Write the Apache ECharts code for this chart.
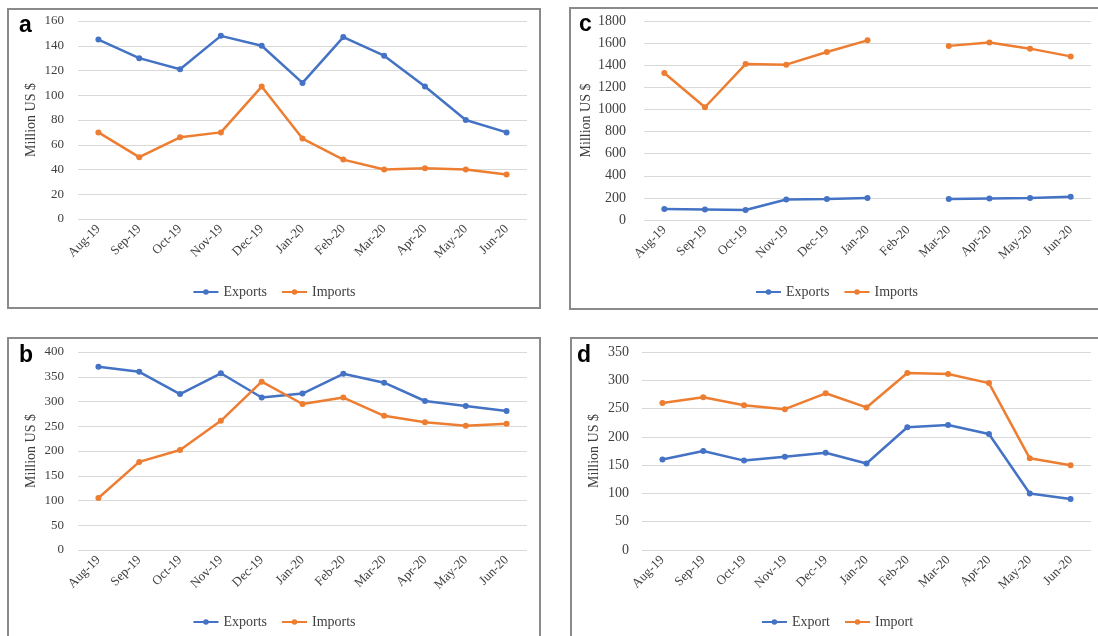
<!DOCTYPE html>
<html>
<head>
<meta charset="utf-8">
<title>Monthly trade</title>
<script src="https://cdn.jsdelivr.net/npm/echarts@6/dist/echarts.min.js"></script>
<style>
  html, body { margin: 0; padding: 0; background: #fff; }
  body { width: 1098px; height: 636px; position: relative; overflow: hidden; }
  .panel { position: absolute; box-sizing: border-box; border: 2px solid #8a8a8a; background: #fff; }
</style>
</head>
<body>
<div id="panel-a" class="panel" style="left:7px;top:8px;width:534px;height:301px"></div>
<div id="panel-c" class="panel" style="left:569px;top:7px;width:535px;height:303px"></div>
<div id="panel-b" class="panel" style="left:7px;top:337px;width:534px;height:310px"></div>
<div id="panel-d" class="panel" style="left:570px;top:337px;width:534px;height:310px"></div>
<script>
// categories
const months = ['Aug-19', 'Sep-19', 'Oct-19', 'Nov-19', 'Dec-19', 'Jan-20', 'Feb-20', 'Mar-20', 'Apr-20', 'May-20', 'Jun-20'];

// panel a
const aExports = [145, 130, 121, 148, 140, 110, 147, 132, 107, 80, 70];
const aImports = [70, 50, 66, 70, 107, 65, 48, 40, 41, 40, 36];

// panel b
const bExports = [370, 360, 315, 357, 308, 316, 356, 338, 301, 291, 281];
const bImports = [105, 178, 202, 261, 340, 295, 308, 271, 258, 251, 255];

// panel c (no value for Feb-20)
const cExports = [100, 95, 90, 185, 190, 200, null, 190, 195, 200, 210];
const cImports = [1330, 1020, 1410, 1405, 1520, 1625, null, 1575, 1605, 1550, 1480];

// panel d
const dExport = [160, 175, 158, 165, 172, 153, 217, 221, 205, 100, 90];
const dImport = [260, 270, 256, 249, 277, 252, 313, 311, 295, 162, 150];

// y axis ticks per panel
const aTicks = { max: 160, interval: 20 };
const bTicks = { max: 400, interval: 50 };
const cTicks = { max: 1800, interval: 200 };
const dTicks = { max: 350, interval: 50 };

const SERIF = '"Liberation Serif", "Times New Roman", serif';
const BLUE = '#4472C4';
const ORANGE = '#ED7D31';
const TEXT = '#404040';

const PANELS = [
  {
    id: 'panel-a', letter: 'a', ticks: aTicks,
    names: ['Exports', 'Imports'], values: [aExports, aImports],
    grid: { left: 69, top: 11, width: 449, height: 198 },
    letterPos: { left: 10, top: 4 }, legendTop: 270, nameGap: 40, tickSize: 13, tickMargin: 14
  },
  {
    id: 'panel-c', letter: 'c', ticks: cTicks,
    names: ['Exports', 'Imports'], values: [cExports, cImports],
    grid: { left: 69, top: 12, width: 451, height: 199 },
    letterPos: { left: 8, top: 4 }, legendTop: 271, nameGap: 51, tickSize: 14, tickMargin: 18
  },
  {
    id: 'panel-b', letter: 'b', ticks: bTicks,
    names: ['Exports', 'Imports'], values: [bExports, bImports],
    grid: { left: 69, top: 13, width: 449, height: 198 },
    letterPos: { left: 10, top: 5 }, legendTop: 271, nameGap: 40, tickSize: 13, tickMargin: 14
  },
  {
    id: 'panel-d', letter: 'd', ticks: dTicks,
    names: ['Export', 'Import'], values: [dExport, dImport],
    grid: { left: 70, top: 13, width: 449, height: 198 },
    letterPos: { left: 5, top: 5 }, legendTop: 271, nameGap: 41, tickSize: 14, tickMargin: 13
  }
];

function buildOption(p) {
  const colors = [BLUE, ORANGE];
  return {
    animation: false,
    textStyle: { fontFamily: SERIF },
    title: {
      text: p.letter,
      left: p.letterPos.left,
      top: p.letterPos.top,
      padding: 0,
      textStyle: { fontFamily: '"Liberation Sans", Arial, sans-serif', fontWeight: 'bold', fontSize: 23, color: '#000' }
    },
    grid: p.grid,
    legend: {
      top: p.legendTop,
      left: 'center',
      itemWidth: 25,
      itemHeight: 7,
      itemGap: 14,
      textStyle: { fontFamily: SERIF, fontSize: 14, color: TEXT },
      data: p.names
    },
    xAxis: {
      type: 'category',
      data: months,
      boundaryGap: true,
      axisLine: { show: false },
      axisTick: { show: false },
      axisLabel: { interval: 0, rotate: 45, margin: 8, fontFamily: SERIF, fontSize: 13, color: TEXT }
    },
    yAxis: {
      type: 'value',
      min: 0,
      max: p.ticks.max,
      interval: p.ticks.interval,
      name: 'Million US $',
      nameLocation: 'middle',
      nameGap: p.nameGap,
      nameMoveOverlap: false,
      nameTextStyle: { fontFamily: SERIF, fontSize: 14, color: TEXT },
      axisLine: { show: false },
      axisTick: { show: false },
      axisLabel: { margin: p.tickMargin, fontFamily: SERIF, fontSize: p.tickSize, color: TEXT, formatter: v => String(v) },
      splitLine: { lineStyle: { color: '#d9d9d9', width: 1 } }
    },
    series: p.names.map((name, i) => ({
      name,
      type: 'line',
      data: p.values[i],
      symbol: 'circle',
      symbolSize: 6,
      connectNulls: false,
      color: colors[i],
      lineStyle: { width: 2.5, color: colors[i] },
      itemStyle: { color: colors[i] }
    }))
  };
}

PANELS.forEach(p => {
  const chart = echarts.init(document.getElementById(p.id), null, { renderer: 'canvas' });
  chart.setOption(buildOption(p));
});
</script>
</body>
</html>
